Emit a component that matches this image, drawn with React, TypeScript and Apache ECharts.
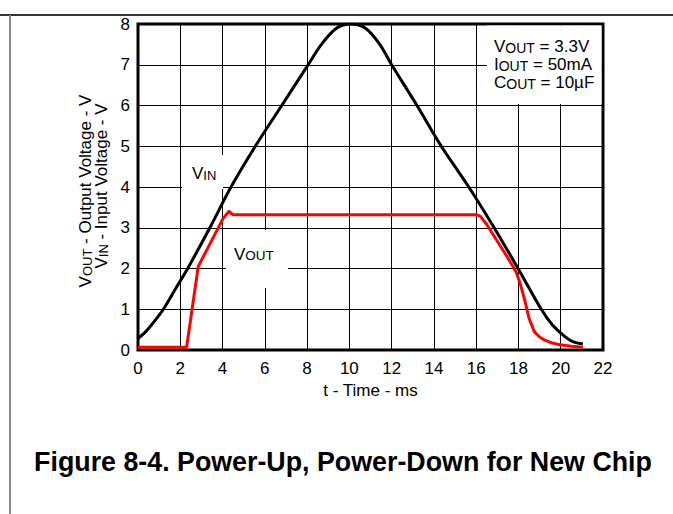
import React, { useEffect, useRef } from "react";
import * as echarts from "echarts";

// ---- data ----
const vinTime = [0, 0.4, 0.8, 1.2, 1.75, 2.35, 3.4, 4.4, 5.55, 6.8, 8.05, 8.68, 9.4, 10.07, 10.75, 11.44, 12.0, 13.2, 14.35, 15.65, 16.85, 17.98, 19.08, 19.6, 20.2, 20.6, 21.05];
const vinVolt = [0.28, 0.47, 0.72, 1.0, 1.48, 2.0, 3.0, 4.0, 5.0, 6.0, 7.0, 7.5, 7.9, 8.0, 7.9, 7.5, 7.0, 6.0, 5.0, 4.0, 3.0, 2.0, 1.0, 0.62, 0.33, 0.2, 0.15];

const voutTime = [0, 2.3, 2.85, 4.03, 4.3, 4.5, 16.0, 16.2, 16.5, 17.0, 17.5, 17.9, 18.1, 18.3, 18.5, 18.75, 19.0, 19.25, 19.6, 19.95, 20.5, 21.05];
const voutVolt = [0.07, 0.07, 2.05, 3.23, 3.4, 3.32, 3.32, 3.28, 3.08, 2.67, 2.26, 1.9, 1.6, 1.22, 0.78, 0.45, 0.32, 0.24, 0.17, 0.13, 0.09, 0.07];

const xMin = 0, xMax = 22, xStep = 2;
const yMin = 0, yMax = 8, yStep = 1;

const xName = "t - Time - ms";
const yName1 = ["V", "OUT", " - Output Voltage - V"];
const yName2 = ["V", "IN", " - Input Voltage - V"];
const vinLabel = ["V", "IN"];
const voutLabel = ["V", "OUT"];
const conditions = [
  ["V", "OUT", " = 3.3V"],
  ["I", "OUT", " = 50mA"],
  ["C", "OUT", " = 10µF"],
];
const title = "Figure 8-4. Power-Up, Power-Down for New Chip";

const FONT = "'Liberation Sans', Arial, Helvetica, sans-serif";

function richParts(parts: string[]) {
  return `{m|${parts[0]}}{s|${parts[1]}}` + (parts[2] ? `{m|${parts[2]}}` : "");
}
function richStyle(m: number, s: number) {
  return {
    m: { fontSize: m, lineHeight: m, verticalAlign: "bottom", fontFamily: FONT, fill: "#000", color: "#000" },
    s: { fontSize: s, lineHeight: Math.round(s * 0.65), verticalAlign: "bottom", fontFamily: FONT, fill: "#000", color: "#000" },
  };
}

export default function App() {
  const ref = useRef<HTMLDivElement>(null);
  useEffect(() => {
    if (!ref.current) return;
    const chart = echarts.init(ref.current, undefined, { renderer: "svg" });
    const gl = 138, gt = 24, gw = 465, gh = 326;
    const vinData = vinTime.map((t, i) => [t, vinVolt[i]]);
    const voutData = voutTime.map((t, i) => [t, voutVolt[i]]);

    const textEl = (x: number, y: number, parts: string[], m: number, s: number, extra: any = {}) => ({
      type: "text",
      x,
      y,
      z: 20,
      rotation: extra.rotation || 0,
      style: {
        text: richParts(parts),
        rich: richStyle(m, s),
        fontFamily: FONT,
        fontSize: m,
        fill: "#000",
        align: extra.align || "left",
        textAlign: extra.align || "left",
        verticalAlign: extra.valign || "top",
        textVerticalAlign: extra.valign || "top",
      },
    });

    chart.setOption({
      animation: false,
      backgroundColor: "#fff",
      grid: {
        left: gl,
        top: gt,
        width: gw,
        height: gh,
        show: true,
        borderColor: "#000",
        borderWidth: 3,
        backgroundColor: "transparent",
      },
      xAxis: {
        type: "value",
        min: xMin,
        max: xMax,
        interval: xStep,
        name: xName,
        nameLocation: "middle",
        nameGap: 30,
        nameTextStyle: { fontSize: 17, color: "#000", fontFamily: FONT },
        axisLine: { show: false },
        axisTick: { show: false },
        axisLabel: { fontSize: 17, color: "#000", fontFamily: FONT, margin: 10 },
        splitLine: { show: true, lineStyle: { color: "#000", width: 1 } },
      },
      yAxis: {
        type: "value",
        min: yMin,
        max: yMax,
        interval: yStep,
        axisLine: { show: false },
        axisTick: { show: false },
        axisLabel: { fontSize: 17, color: "#000", fontFamily: FONT, margin: 8 },
        splitLine: { show: true, lineStyle: { color: "#000", width: 1 } },
      },
      series: [
        {
          type: "line",
          data: vinData,
          showSymbol: false,
          smooth: 0.3,
          z: 10,
          lineStyle: { color: "#000", width: 3 },
        },
        {
          type: "line",
          data: voutData,
          showSymbol: false,
          smooth: false,
          z: 11,
          lineStyle: { color: "#ff0000", width: 3, join: "round" },
        },
      ],
      graphic: [
        { type: "line", z: 1, shape: { x1: 0, y1: 15, x2: 673, y2: 15 }, style: { stroke: "#333", lineWidth: 2 } },
        { type: "line", z: 1, shape: { x1: 10, y1: 15, x2: 10, y2: 514 }, style: { stroke: "#888", lineWidth: 2 } },
        // white boxes behind labels
        { type: "rect", z: 5, shape: { x: 182, y: 155, width: 41, height: 34 }, style: { fill: "#fff" } },
        { type: "rect", z: 5, shape: { x: 226, y: 230, width: 62, height: 58 }, style: { fill: "#fff" } },
        { type: "rect", z: 5, shape: { x: 487, y: 25.5, width: 114.5, height: 78.5 }, style: { fill: "#fff" } },
        textEl(192, 164.5, vinLabel, 17, 13),
        textEl(234, 245.5, voutLabel, 17, 13.5),
        ...conditions.map((c, i) => textEl(494, 37.5 + i * 18, c, 17, 14)),
        textEl(85, 191, yName1, 17, 13, { rotation: Math.PI / 2, align: "center", valign: "middle" }),
        textEl(101, 186, yName2, 17, 13, { rotation: Math.PI / 2, align: "center", valign: "middle" }),
        {
          type: "text",
          x: 343,
          y: 462,
          z: 20,
          style: {
            text: title,
            fontFamily: FONT,
            fontSize: 26.8,
            fontWeight: "bold",
            fill: "#000",
            align: "center",
            textAlign: "center",
            verticalAlign: "middle",
            textVerticalAlign: "middle",
          },
        },
      ],
    });
    return () => chart.dispose();
  }, []);
  return (
    <div
      ref={ref}
      style={{ position: "absolute", left: 0, top: 0, width: 673, height: 514, background: "#fff" }}
    />
  );
}
